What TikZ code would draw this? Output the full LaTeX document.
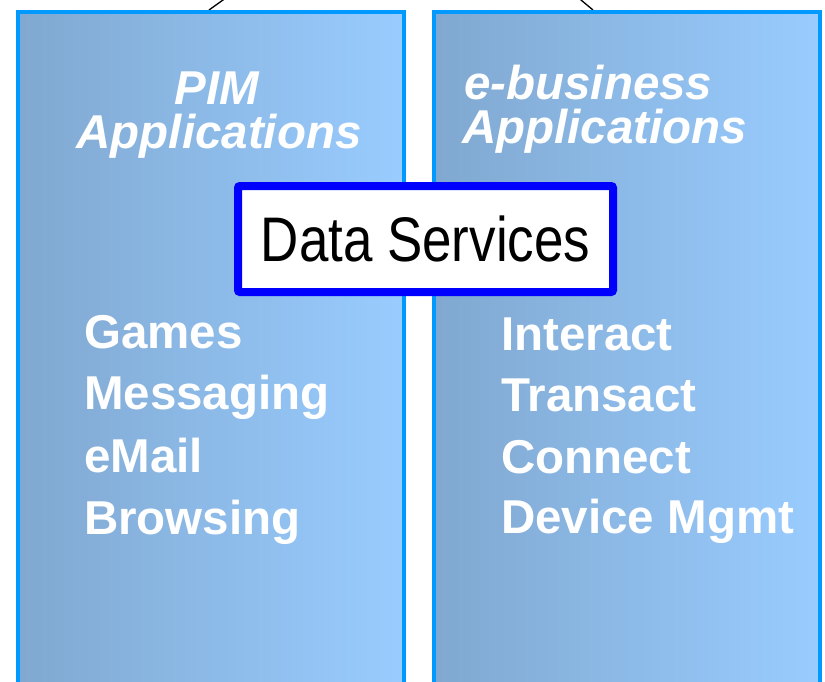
\documentclass[tikz,border=0pt]{standalone}
\usepackage{fontspec}
\setmainfont{Liberation Sans}
\newfontfamily\wideb{Liberation Sans}
\newfontfamily\narrowf[FakeStretch=0.84]{Liberation Sans}
\definecolor{pleft}{HTML}{80A8D0}
\definecolor{pright}{HTML}{99CCFF}
\definecolor{pborder}{HTML}{0099FF}
\definecolor{dsblue}{HTML}{0000FF}
\begin{document}
\begin{tikzpicture}[x=1pt,y=-1pt,
  panel/.style={draw=pborder, line width=4pt, left color=pleft, right color=pright,
    minimum width=386pt, minimum height=690pt, inner sep=0pt, anchor=north},
  title/.style={text=white, font=\wideb\bfseries\itshape\fontsize{47.5}{48}\selectfont, inner sep=0pt},
  item/.style={text=white, font=\wideb\bfseries\fontsize{47.5}{48}\selectfont, inner sep=0pt, anchor=base west},
  link/.style={draw=black, line width=1.3pt},
  dsbox/.style={draw=dsblue, line width=8pt, fill=white, rounded corners=2pt,
    minimum width=375pt, minimum height=106pt, inner sep=0pt,
    font=\narrowf\fontsize{63}{66}\selectfont}]
\path[use as bounding box, clip] (0,0) rectangle (825,681);
% connectors leaving the top of the picture
\coordinate (lt1) at (209,10);
\coordinate (lt2) at (237,-10);
\coordinate (rt1) at (593,10);
\coordinate (rt2) at (569,-10);
\draw[link] (lt2) -- (lt1);
\draw[link] (rt2) -- (rt1);
% panels
\node[panel] (lp) at (211,10) {};
\node[panel] (rp) at (627,10) {};
% titles
\node[title, anchor=base] (pim) at (217,104) {PIM};
\node[title, anchor=base] (pimapp) at (219,148) {Applications};
\node[title, anchor=base west] (eb) at (464,99) {e-business};
\node[title, anchor=base west] (ebapp) at (462,143) {Applications};
% left list
\node[item] (g1) at (84,348) {Games};
\node[item] (g2) at (84,409) {Messaging};
\node[item] (g3) at (84,472) {eMail};
\node[item] (g4) at (84,534) {Browsing};
% right list
\node[item] (r1) at (501,350) {Interact};
\node[item] (r2) at (501,411) {Transact};
\node[item] (r3) at (501,473) {Connect};
\node[item] (r4) at (501,533) {Device Mgmt};
% data services box
\node[dsbox] (ds) at (425.5,239) {Data Services};
\end{tikzpicture}
\end{document}
